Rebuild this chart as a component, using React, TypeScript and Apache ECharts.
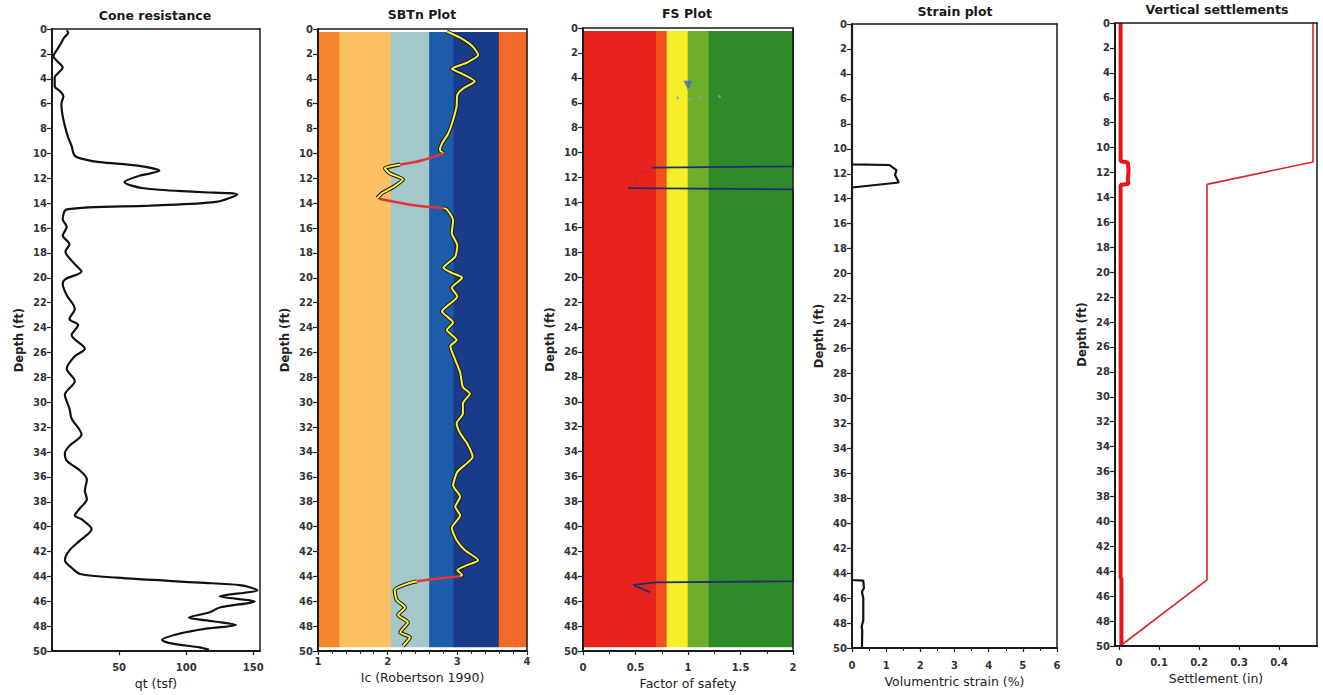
import React, { useEffect, useRef } from "react";
import * as echarts from "echarts";

const FONT = "'DejaVu Sans', Verdana, sans-serif";

const panelTitles = ["Cone resistance", "SBTn Plot", "FS Plot", "Strain plot", "Vertical settlements"];
const xAxisNames = ["qt (tsf)", "Ic (Robertson 1990)", "Factor of safety", "Volumentric strain (%)", "Settlement (in)"];
const depthName = "Depth (ft)";

// Cone resistance: [qt (tsf), depth (ft)]
const qtProfile = [
  [11, 0.1], [12, 0.3], [9, 0.7], [7, 1.1], [3, 1.8], [1, 2.2], [4, 2.6], [8, 3.1], [5, 3.5], [2, 3.9],
  [2, 4.6], [6, 5.0], [8.5, 5.4], [7, 6.0], [7.5, 6.7], [9.6, 7.8], [12, 8.7], [14.6, 9.4], [17, 10.2],
  [25, 10.5], [35.6, 10.7], [65, 11.0], [80, 11.4], [65, 11.8], [54, 12.3], [68, 12.8], [110, 13.1],
  [138, 13.3], [122, 13.9], [73, 14.2], [11, 14.5], [8, 15.3], [11, 15.9], [8, 16.6], [13, 17.3],
  [10, 17.9], [12, 18.3], [18, 19.0], [22, 19.5], [10, 20.1], [8, 20.5], [11, 21.4], [17, 22.5],
  [13, 23.3], [19.5, 23.8], [14.6, 24.6], [24.5, 25.7], [17, 26.3], [11, 27.3], [17, 28.3], [9.6, 29.4],
  [13, 30.5], [14.6, 31.3], [22, 32.6], [13, 33.5], [9.6, 34.1], [11, 34.7], [21, 35.5], [26, 36.2],
  [24.5, 37.1], [26, 37.8], [21, 38.5], [17, 39.1], [22, 39.4], [29.5, 40.2], [21, 41.1], [13, 41.9],
  [9.6, 42.7], [14.6, 43.3], [21, 43.8], [48, 44.1], [110, 44.5], [140, 44.7], [153, 45.1], [125, 45.6],
  [151, 46.0], [125, 46.5], [117, 46.9], [102, 47.3], [120, 47.6], [137, 47.9], [115, 48.2], [95, 48.6],
  [82, 49.1], [90, 49.4], [110, 49.7], [117, 49.9],
];

// SBTn Ic profile: [Ic, depth]
const icSeg1 = [
  [2.85, 0.2], [3.04, 0.7], [3.22, 1.4], [3.3, 2.1], [3.14, 2.7], [2.92, 3.2], [3.07, 3.6], [3.25, 4.2],
  [3.08, 4.8], [3.0, 5.3], [2.99, 6.2], [2.94, 7.3], [2.87, 8.4], [2.78, 9.2], [2.75, 9.7], [2.8, 10.0],
];
const icRed1 = [[2.8, 10.0], [2.5, 10.55], [2.18, 10.9]];
const icSeg2 = [
  [2.18, 10.9], [1.96, 11.2], [2.03, 11.6], [2.22, 12.1], [2.08, 12.7], [1.92, 13.2], [1.85, 13.6],
];
const icRed2 = [[1.88, 13.65], [2.3, 14.1], [2.8, 14.4]];
const icSeg3 = [
  [2.8, 14.4], [2.85, 14.5], [2.94, 15.4], [2.92, 16.4], [3.0, 17.4], [2.97, 18.3], [2.8, 19.2],
  [2.92, 19.6], [3.07, 20.0], [2.92, 20.8], [3.0, 21.5], [2.78, 22.7], [2.94, 23.6], [2.85, 24.2],
  [2.99, 25.0], [2.9, 25.5], [2.97, 26.6], [3.04, 27.6], [3.08, 28.8], [3.18, 29.3], [3.08, 30.1],
  [3.08, 30.9], [2.99, 31.7], [3.04, 32.5], [3.14, 33.3], [3.22, 34.4], [3.14, 34.9], [3.0, 35.6],
  [2.94, 36.7], [3.04, 37.6], [2.97, 38.4], [3.04, 39.1], [2.92, 40.1], [2.99, 41.1], [3.11, 41.9],
  [3.3, 42.7], [3.14, 43.1], [3.0, 43.5], [3.07, 43.9], [3.04, 44.0],
];
const icRed3 = [[3.04, 44.0], [2.7, 44.2], [2.42, 44.4]];
const icSeg4 = [
  [2.42, 44.4], [2.28, 44.6], [2.1, 45.1], [2.13, 45.9], [2.25, 46.5], [2.15, 47.1], [2.29, 47.7],
  [2.18, 48.5], [2.32, 48.9], [2.22, 49.6],
];

// SBTn zone boundaries (Ic) and colours
const sbtnBounds = [1, 1.31, 2.05, 2.6, 2.95, 3.6, 4];
const sbtnColors = ["#F5872A", "#FBC163", "#A3C7CB", "#1C5CA8", "#1A3A8A", "#F26A28"];

// FS zone boundaries and colours
const fsBounds = [0, 0.7, 0.8, 1.0, 1.2, 2];
const fsColors = ["#E8231D", "#F1521C", "#F7EE28", "#6DAE2C", "#2D8A26"];
const bandDepths = [0.25, 49.7];

// Factor of safety: [FS, depth]
const fsUpper = [[2, 0], [2, 11.1], [0.66, 11.2]];
const fsLiquefied = [[0.66, 11.2], [0.6, 11.5], [0.51, 11.9], [0.5, 12.4], [0.43, 12.85]];
const fsLower = [[0.43, 12.85], [2, 12.95], [2, 44.4], [0.69, 44.5], [0.48, 44.7], [0.64, 45.3]];
const fsDeepProfile = [[0.64, 45.3], [0.51, 45.7], [0.45, 47.0], [0.42, 47.8], [0.29, 48.9], [0.25, 49.6]];
const fsMarker = [[1.0, 4.6]];
const fsDots = [[0.9, 5.6], [1.02, 5.7], [1.12, 5.6], [1.3, 5.5]];

// Volumetric strain: [%, depth]
const strainProfile = [
  [0, 0], [0, 11.25], [1.1, 11.3], [1.3, 11.7], [1.26, 12.1], [1.37, 12.7], [0, 13.1], [0, 44.55],
  [0.33, 44.6], [0.35, 45.2], [0.29, 45.5], [0.33, 46.0], [0.33, 47.8], [0.28, 48.3], [0.3, 48.6],
  [0.29, 50],
];

// Settlements: [in, depth]
const settleTotal = [[0.485, 0], [0.485, 11.15], [0.22, 12.95], [0.22, 44.7], [0.003, 50]];
const settleLayer = [
  [0.004, 0], [0.004, 11.1], [0.022, 11.2], [0.024, 11.8], [0.022, 12.6], [0.024, 12.9], [0.004, 13.0],
  [0.004, 44.5], [0.006, 44.6], [0.006, 50],
];

const grids = [
  { left: 52, top: 29, width: 208, height: 625 },
  { left: 318, top: 29, width: 209, height: 622 },
  { left: 583, top: 28, width: 210, height: 623 },
  { left: 852, top: 24, width: 205, height: 624 },
  { left: 1115, top: 23, width: 202, height: 623 },
];
const titlePos = [[155, 15], [422, 14], [687, 13], [955, 11], [1217, 9]];

const xConf: any[] = [
  { min: 0, max: 155, custom: [50, 100, 150], margin: 11, nameGap: 23 },
  { min: 1, max: 4, interval: 1, minor: 5, margin: 5, nameGap: 20 },
  { min: 0, max: 2, interval: 0.5, minor: 2, margin: 11, nameGap: 21 },
  { min: 0, max: 6, interval: 1, minor: 2, margin: 12, nameGap: 23 },
  { min: -0.01, max: 0.495, custom: [0, 0.1, 0.2, 0.3, 0.4], margin: 11, nameGap: 22 },
];

const lineColor = "#1a1a1a";

function bandSeries(bounds: number[], colors: string[], gi: number) {
  const data = colors.map((_, i) => [bounds[i], bounds[i + 1], bandDepths[0], bandDepths[1]]);
  return {
    type: "custom",
    xAxisIndex: gi * 2,
    yAxisIndex: gi * 2,
    z: 1,
    silent: true,
    encode: { x: [0, 1], y: [2, 3] },
    data,
    renderItem: (params: any, api: any) => {
      const a = api.coord([api.value(0), api.value(2)]);
      const b = api.coord([api.value(1), api.value(3)]);
      return {
        type: "rect",
        shape: {
          x: Math.min(a[0], b[0]) - 0.3,
          y: Math.min(a[1], b[1]),
          width: Math.abs(b[0] - a[0]) + 0.6,
          height: Math.abs(b[1] - a[1]),
        },
        style: { fill: colors[params.dataIndex] },
      };
    },
  };
}

function lineSeries(data: number[][], gi: number, color: string, width: number, z = 3, extra: any = {}) {
  return {
    type: "line",
    xAxisIndex: gi * 2,
    yAxisIndex: gi * 2,
    data,
    symbol: "none",
    z,
    silent: true,
    lineStyle: { color, width },
    ...extra,
  };
}

export default function App() {
  const ref = useRef<HTMLDivElement>(null);
  useEffect(() => {
    document.body.style.margin = "0";
    if (!ref.current) return;
    const chart = echarts.init(ref.current, null, { renderer: "svg" });

    const xAxis: any[] = [];
    const yAxis: any[] = [];
    grids.forEach((_, i) => {
      const c = xConf[i];
      const primaryX: any = {
        type: "value",
        gridIndex: i,
        position: "bottom",
        min: c.min,
        max: c.max,
        z: 10,
        name: xAxisNames[i],
        nameLocation: "middle",
        nameGap: c.nameGap,
        nameTextStyle: { fontFamily: FONT, fontSize: 12.5, color: "#222" },
        axisLine: { show: true, onZero: false, lineStyle: { color: lineColor, width: 2 } },
        axisTick: { show: true, length: 4, lineStyle: { color: "#222", width: 1.2 } },
        axisLabel: { fontFamily: FONT, fontSize: 10, fontWeight: "bold", color: "#333", margin: c.margin },
        splitLine: { show: false },
      };
      if (c.interval !== undefined) primaryX.interval = c.interval;
      if (c.custom) {
        primaryX.axisTick.customValues = c.custom;
        primaryX.axisLabel.customValues = c.custom;
      }
      if (c.minor) {
        primaryX.minorTick = { show: true, splitNumber: c.minor, length: 3, lineStyle: { color: "#333", width: 1 } };
      }
      xAxis.push(primaryX);
      xAxis.push({
        type: "value",
        gridIndex: i,
        position: "top",
        min: c.min,
        max: c.max,
        z: 10,
        axisLine: { show: true, onZero: false, lineStyle: { color: lineColor, width: 1.5 } },
        axisTick: { show: false },
        axisLabel: { show: false },
        splitLine: { show: false },
      });
      yAxis.push({
        type: "value",
        gridIndex: i,
        position: "left",
        inverse: true,
        min: 0,
        max: 50,
        interval: 2,
        z: 10,
        name: depthName,
        nameLocation: "middle",
        nameGap: 27,
        nameTextStyle: { fontFamily: FONT, fontSize: 11.5, fontWeight: "bold", color: "#222" },
        axisLine: { show: true, onZero: false, lineStyle: { color: lineColor, width: 2 } },
        axisTick: { show: true, length: 5, lineStyle: { color: "#222", width: 1.2 } },
        axisLabel: { fontFamily: FONT, fontSize: 10, fontWeight: "bold", color: "#333", margin: 5 },
        splitLine: { show: false },
      });
      yAxis.push({
        type: "value",
        gridIndex: i,
        position: "right",
        inverse: true,
        min: 0,
        max: 50,
        z: 10,
        axisLine: { show: true, onZero: false, lineStyle: { color: lineColor, width: 1.5 } },
        axisTick: { show: false },
        axisLabel: { show: false },
        splitLine: { show: false },
      });
    });

    const series: any[] = [];
    // Panel 1
    series.push(lineSeries(qtProfile, 0, "#111", 2.2, 3, { smooth: 0.3 }));
    // Panel 2
    series.push(bandSeries(sbtnBounds, sbtnColors, 1));
    [icSeg1, icSeg2, icSeg3, icSeg4].forEach((seg) => {
      series.push(lineSeries(seg, 1, "#1a1a1a", 4, 3, { smooth: 0.2 }));
    });
    [icSeg1, icSeg2, icSeg3, icSeg4].forEach((seg) => {
      series.push(lineSeries(seg, 1, "#F6F23C", 2, 4, { smooth: 0.2 }));
    });
    [icRed1, icRed2, icRed3].forEach((seg) => {
      series.push(lineSeries(seg, 1, "#E2343A", 2.5, 4, { smooth: 0.4 }));
    });
    // Panel 3
    series.push(bandSeries(fsBounds, fsColors, 2));
    series.push(lineSeries(fsUpper, 2, "#1F2E6E", 1.8, 3));
    series.push(lineSeries(fsLower, 2, "#1F2E6E", 1.8, 3));
    series.push(lineSeries(fsLiquefied, 2, "#7A2A5A", 1.2, 3, { lineStyle: { color: "#7A2A5A", width: 1.2, opacity: 0.35 } }));
    series.push(lineSeries(fsDeepProfile, 2, "#8A3F9E", 1.2, 3, { lineStyle: { color: "#8A3F9E", width: 1.3, opacity: 0.55, type: "dotted" } }));
    series.push({
      type: "scatter",
      xAxisIndex: 4,
      yAxisIndex: 4,
      data: fsMarker,
      symbol: "triangle",
      symbolRotate: 180,
      symbolSize: 9,
      z: 4,
      silent: true,
      itemStyle: { color: "#2D6FD0" },
    });
    series.push({
      type: "scatter",
      xAxisIndex: 4,
      yAxisIndex: 4,
      data: fsDots,
      symbol: "circle",
      symbolSize: 3,
      z: 4,
      silent: true,
      itemStyle: { color: "#7FA8D8", opacity: 0.7 },
    });
    // Panel 4
    series.push(lineSeries(strainProfile, 3, "#111", 2.2, 3));
    // Panel 5
    series.push(lineSeries(settleLayer, 4, "#E8141B", 4, 3));
    series.push(lineSeries(settleTotal, 4, "#D42A2A", 1.6, 3));

    const graphic = panelTitles.map((t, i) => ({
      type: "text",
      x: titlePos[i][0],
      y: titlePos[i][1],
      z: 20,
      style: {
        text: t,
        fill: "#1a1a1a",
        fontFamily: FONT,
        fontSize: 12.5,
        fontWeight: "bold",
        align: "center",
        verticalAlign: "middle",
        textAlign: "center",
        textVerticalAlign: "middle",
      },
    }));

    chart.setOption({
      animation: false,
      backgroundColor: "#ffffff",
      grid: grids.map((g) => ({ ...g, containLabel: false })),
      xAxis,
      yAxis,
      series,
      graphic,
    });
    return () => chart.dispose();
  }, []);
  return <div ref={ref} style={{ width: 1323, height: 695 }} />;
}
